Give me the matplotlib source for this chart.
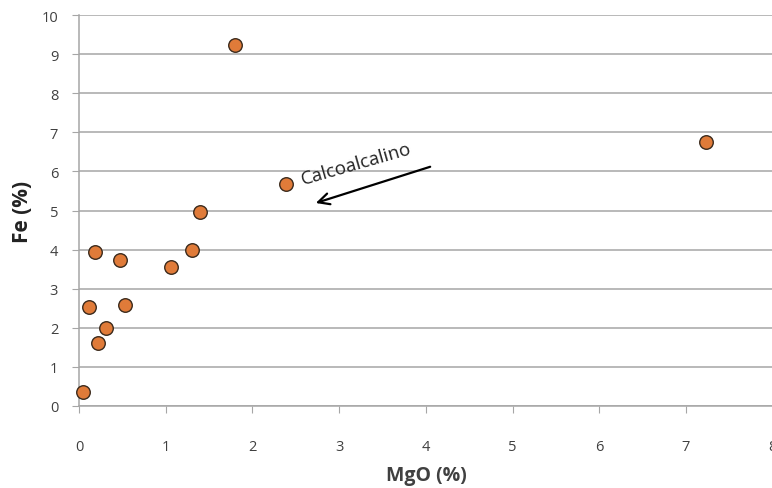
import matplotlib
matplotlib.use("Agg")
import matplotlib.pyplot as plt

mgo = [1.80, 7.23, 2.39, 1.40, 1.30, 1.06, 0.18, 0.47, 0.12, 0.53, 0.31, 0.22, 0.05]
fe = [9.23, 6.75, 5.68, 4.96, 4.00, 3.56, 3.94, 3.73, 2.53, 2.58, 2.00, 1.60, 0.35]
x_ticks = [0, 1, 2, 3, 4, 5, 6, 7, 8]
y_ticks = [0, 1, 2, 3, 4, 5, 6, 7, 8, 9, 10]
annot_text = "Calcoalcalino"

plt.rcParams['font.family'] = ['Open Sans', 'DejaVu Sans']

fig = plt.figure(figsize=(7.72, 4.89), dpi=100)
ax = fig.add_axes([79/772, 1-407/489, (772-79)/772 + 0.001, (407-16)/489])
ax.set_xlim(0, 8)
ax.set_ylim(0, 10)
ax.set_xticks(x_ticks)
ax.set_yticks(y_ticks)
ax.grid(axis='y', color='#a6a6a6', linewidth=1.1)
ax.set_axisbelow(True)
for s in ['top', 'right']:
    ax.spines[s].set_visible(False)
ax.spines['left'].set_color('#a6a6a6')
ax.spines['bottom'].set_color('#a6a6a6')
ax.spines['left'].set_linewidth(1.1)
ax.spines['bottom'].set_linewidth(1.1)
ax.tick_params(axis='x', length=5, color='#a6a6a6', pad=19, labelsize=10.5, labelcolor='#404040')
ax.tick_params(axis='y', length=5, color='#a6a6a6', pad=10, labelsize=10.5, labelcolor='#404040')

ax.scatter(mgo, fe, s=95, color='#e07b39', edgecolors='#3b2a1c', linewidths=1.0, zorder=3, clip_on=False)

ax.annotate('', xy=(2.70, 5.17), xytext=(4.08, 6.14),
            arrowprops=dict(arrowstyle='->', color='black', lw=1.6, mutation_scale=20))
ax.text(2.6, 5.58, annot_text, rotation=16, fontsize=13.5, color='#222222',
        ha='left', va='bottom', rotation_mode='anchor')

ax.set_xlabel('MgO (%)', fontsize=14, fontweight='bold', color='#404040', labelpad=8)
ax.set_ylabel('Fe (%)', fontsize=15, fontweight='bold', color='#222222', labelpad=6)

fig.savefig('out.png', dpi=100)
